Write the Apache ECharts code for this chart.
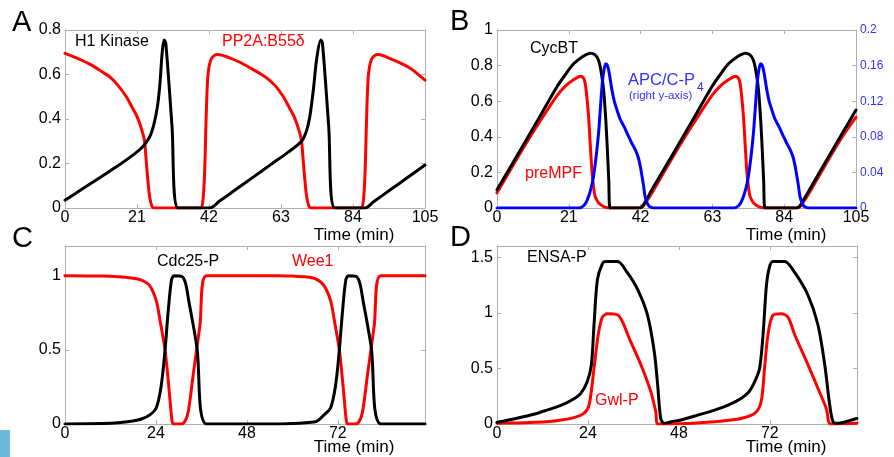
<!DOCTYPE html>
<html><head><meta charset="utf-8">
<script src="https://cdn.jsdelivr.net/npm/echarts@6/dist/echarts.min.js"></script>
<style>html,body{margin:0;padding:0;background:#fff}#c{width:894px;height:457px}</style>
</head><body><div id="c"></div>
<script>
// ---------- data (time in min, value) ----------
const aH1Kinase = [[0,0.035],[5,0.085],[10,0.135],[15,0.185],[20,0.24],[22,0.265],[23.7,0.295],[25,0.33],[26,0.38],[27,0.46],[27.7,0.56],[28.3,0.69],[28.9,0.755],[29.4,0.74],[31.2,0.37],[33,0],[42.2,0],[45,0.03],[50,0.085],[55,0.14],[60,0.195],[65,0.25],[69,0.30],[70.5,0.35],[71.5,0.42],[72.5,0.54],[73.4,0.67],[74.6,0.755],[75.1,0.74],[76.9,0.37],[78.7,0],[87.5,0],[90,0.028],[95,0.083],[100,0.138],[105,0.193]];
const aPP2A = [[0,0.695],[4,0.67],[8,0.64],[11,0.61],[13,0.59],[15.5,0.55],[17.9,0.50],[19.5,0.455],[20.8,0.418],[21.8,0.38],[22.7,0.335],[23.2,0.30],[23.7,0.21],[24.2,0.12],[24.7,0.05],[25.3,0.01],[26,0],[39.5,0],[40.2,0.03],[40.7,0.15],[41.2,0.42],[41.7,0.6],[42.5,0.665],[43.5,0.685],[44.6,0.69],[48,0.675],[51,0.655],[54,0.63],[56.8,0.605],[58.8,0.585],[61.3,0.55],[63.7,0.50],[65.3,0.455],[66.6,0.418],[67.6,0.38],[68.5,0.335],[69,0.30],[69.5,0.21],[70,0.12],[70.5,0.05],[71.1,0.01],[71.8,0],[86.3,0],[87,0.03],[87.5,0.15],[88,0.42],[88.5,0.6],[89.3,0.665],[90.3,0.685],[91.4,0.69],[95,0.67],[98,0.65],[101,0.625],[103,0.60],[105,0.575]];

const bCycBT = [[0,0.103],[5,0.265],[9.7,0.42],[13,0.53],[17.5,0.68],[20,0.75],[22.4,0.81],[25,0.85],[27.3,0.87],[28.7,0.86],[29.7,0.83],[30.5,0.76],[31.2,0.66],[31.8,0.5],[32.3,0.32],[32.7,0.15],[33.1,0],[41.5,0],[42.5,0.01],[43.5,0.04],[45.3,0.103],[50.3,0.265],[55,0.42],[58.3,0.53],[62.8,0.68],[65.3,0.75],[67.7,0.81],[70.3,0.85],[72.6,0.87],[74,0.86],[75,0.83],[75.8,0.76],[76.5,0.66],[77.1,0.5],[77.6,0.32],[78,0.15],[78.4,0],[87.5,0],[88.5,0.01],[89.5,0.04],[91.3,0.1],[96.3,0.265],[101,0.42],[105,0.55]];
const bPreMPF = [[0,0.085],[5,0.25],[9.7,0.40],[13,0.50],[17.5,0.63],[20,0.685],[22.4,0.72],[24.4,0.74],[25.3,0.73],[25.8,0.70],[26.3,0.62],[26.8,0.51],[27.3,0.35],[27.8,0.2],[28.3,0.11],[28.7,0.065],[29.5,0.035],[30.2,0.02],[31.5,0.005],[33,0],[41.5,0],[42.5,0.005],[43.5,0.03],[45.3,0.085],[50.3,0.25],[55,0.40],[58.3,0.50],[62.8,0.63],[65.3,0.685],[67.7,0.72],[69.7,0.74],[70.6,0.73],[71.1,0.70],[71.6,0.62],[72.1,0.51],[72.6,0.35],[73.1,0.2],[73.6,0.11],[74,0.065],[74.8,0.035],[75.5,0.02],[76.8,0.005],[78.3,0],[87.5,0],[88.5,0.005],[89.5,0.03],[91.3,0.085],[96.3,0.25],[101,0.40],[105,0.51]];
const bAPCP4 = [[0,0],[24,0],[25.5,0.003],[26.5,0.01],[27.5,0.022],[28.2,0.035],[29,0.058],[29.7,0.084],[30.2,0.11],[30.7,0.136],[31.2,0.153],[31.8,0.162],[32.3,0.16],[32.8,0.152],[33.6,0.133],[34.3,0.12],[35.1,0.11],[36,0.1],[37.1,0.092],[38.3,0.082],[39.4,0.073],[40.5,0.065],[41.3,0.057],[41.9,0.047],[42.4,0.036],[42.9,0.024],[43.3,0.013],[44,0.005],[44.8,0.001],[46,0],[69.3,0],[70.8,0.003],[71.8,0.01],[72.8,0.022],[73.5,0.035],[74.3,0.058],[75,0.084],[75.5,0.11],[76,0.136],[76.5,0.153],[77.1,0.162],[77.6,0.16],[78.1,0.152],[78.9,0.133],[79.6,0.12],[80.4,0.11],[81.3,0.1],[82.4,0.092],[83.6,0.082],[84.7,0.073],[85.8,0.065],[86.6,0.057],[87.2,0.047],[87.7,0.036],[88.2,0.024],[88.6,0.013],[89.3,0.005],[90.1,0.001],[91.3,0],[105,0]];

const cCdc25P = [[0,0],[10,0.003],[14,0.008],[17.5,0.018],[20,0.032],[22.3,0.06],[24.1,0.11],[25.4,0.26],[26.4,0.5],[27.2,0.75],[28.1,0.97],[28.8,1.0],[30.8,0.995],[31.8,0.95],[32.6,0.84],[34.8,0.52],[37.4,0],[56,0],[60,0.003],[63.5,0.009],[66.5,0.02],[68.3,0.06],[70.1,0.11],[71.4,0.26],[72.4,0.5],[73.2,0.75],[74.1,0.97],[74.8,1.0],[76.8,0.995],[77.8,0.95],[78.6,0.84],[80.8,0.52],[83.4,0],[95,0]];
const cWee1 = [[0,1.0],[10,0.997],[14,0.992],[17.5,0.984],[20,0.972],[22.3,0.935],[24.1,0.83],[25.2,0.68],[26.4,0.5],[27.4,0.25],[28.2,0.03],[28.6,0],[30.7,0],[31.6,0.016],[32.5,0.079],[33.8,0.326],[35.6,0.663],[37.3,1.0],[56,1.0],[60,0.997],[63.5,0.992],[66,0.98],[68.3,0.935],[70.1,0.83],[71.2,0.68],[72.4,0.5],[73.4,0.25],[74.2,0.03],[74.6,0],[76.7,0],[77.6,0.016],[78.5,0.079],[79.8,0.326],[81.6,0.663],[83.3,1.0],[95,1.0]];

const dENSAP = [[0,0.015],[5,0.05],[10,0.09],[13.2,0.125],[17,0.17],[20,0.22],[22.1,0.275],[23.8,0.38],[24.9,0.53],[25.6,0.89],[26.5,1.30],[27.8,1.44],[28.7,1.46],[31.8,1.46],[34.4,1.36],[37.1,1.21],[39.7,0.98],[41.5,0.65],[42.4,0.35],[43.2,0.05],[44.1,0.006],[46,0.02],[48.5,0.036],[53,0.08],[57.4,0.125],[61,0.17],[64.4,0.23],[66.5,0.29],[68,0.38],[69.3,0.50],[70.2,0.80],[71.1,1.245],[71.9,1.41],[72.8,1.46],[75.9,1.46],[78.6,1.36],[82.1,1.155],[84.7,0.89],[86.5,0.53],[87.8,0.17],[88.7,0.02],[90,0.006],[92,0.02],[95,0.05]];
const dGwlP = [[0,0.006],[5,0.01],[10,0.015],[13.2,0.02],[17,0.035],[20.3,0.057],[22.9,0.095],[24.3,0.17],[25.6,0.50],[26.7,0.80],[27.8,0.96],[29.1,0.99],[31.8,0.98],[33.1,0.92],[34.9,0.77],[38,0.53],[40.6,0.29],[41.9,0.11],[42.5,0],[50,0.005],[57.4,0.02],[61,0.033],[64.4,0.05],[68,0.095],[69.7,0.20],[70.6,0.50],[71.5,0.80],[72.8,0.976],[75,0.99],[76.8,0.96],[78.6,0.80],[82.1,0.53],[84.7,0.32],[86.9,0.14],[88.1,0],[95,0.006]];

// axis ranges / ticks
const xTicksAB = {max:105, interval:21};
const xTicksCD = {max:95, interval:24};
const yTicksA = {max:0.8, interval:0.2};
const yTicksB = {max:1, interval:0.2};
const yTicksBRight = {max:0.2, interval:0.04};
const yTicksC = {max:1.2, interval:0.5};
const yTicksD = {max:1.6, interval:0.5};

// ---------- chart ----------
const FONT = '"Liberation Sans", Arial, Helvetica, sans-serif';
const GRAY = '#b0b0b0';
const BLUE_TXT = '#3030ff';
const grids = [
  {left:65, top:30, width:360, height:178},
  {left:497, top:30, width:359, height:178},
  {left:65, top:246, width:360, height:178},
  {left:497, top:246, width:360, height:178}
];
function xAx(g, pos, t, showLab, showMax) {
  return {type:'value', gridIndex:g, position:pos, min:0, max:t.max, interval:t.interval,
    axisLine:{show:true, onZero:false, lineStyle:{color:GRAY, width:1}},
    axisTick:{show:true, inside:true, length:4, lineStyle:{color:GRAY}},
    splitLine:{show:false},
    axisLabel:{show:showLab, color:'#000', fontSize:16, fontFamily:FONT, margin:2, showMaxLabel:showMax, showMinLabel:true}};
}
function yAx(g, pos, t, showLab, showMax, color, fs, margin) {
  return {type:'value', gridIndex:g, position:pos, min:0, max:t.max, interval:t.interval,
    axisLine:{show:true, onZero:false, lineStyle:{color:GRAY, width:1}},
    axisTick:{show:true, inside:true, length:4, lineStyle:{color:GRAY}},
    splitLine:{show:false},
    axisLabel:{show:showLab, color:color||'#000', fontSize:fs||16, fontFamily:FONT, margin:margin||4, showMaxLabel:showMax, showMinLabel:true}};
}
const xAxis = [
  xAx(0,'bottom',xTicksAB,true,true), xAx(0,'top',xTicksAB,false,false),
  xAx(1,'bottom',xTicksAB,true,true), xAx(1,'top',xTicksAB,false,false),
  xAx(2,'bottom',xTicksCD,true,false), xAx(2,'top',xTicksCD,false,false),
  xAx(3,'bottom',xTicksCD,true,false), xAx(3,'top',xTicksCD,false,false)
];
const yAxis = [
  yAx(0,'left',yTicksA,true,true), yAx(0,'right',yTicksA,false,false),
  yAx(1,'left',yTicksB,true,true), yAx(1,'right',yTicksBRight,true,true,BLUE_TXT,12,4),
  yAx(2,'left',yTicksC,true,false), yAx(2,'right',yTicksC,false,false),
  yAx(3,'left',yTicksD,true,false), yAx(3,'right',yTicksD,false,false)
];
function ln(data, xi, yi, color) {
  return {type:'line', data, xAxisIndex:xi, yAxisIndex:yi, showSymbol:false, symbol:'none',
    smooth:0.3, lineStyle:{color, width:3, join:'round', cap:'round'}, itemStyle:{color}, animation:false};
}
const series = [
  ln(aPP2A,0,0,'#ff0000'), ln(aH1Kinase,0,0,'#000000'),
  ln(bPreMPF,2,2,'#ff0000'), ln(bCycBT,2,2,'#000000'), ln(bAPCP4,2,3,'#0000ff'),
  ln(cWee1,4,4,'#ff0000'), ln(cCdc25P,4,4,'#000000'),
  ln(dGwlP,6,6,'#ff0000'), ln(dENSAP,6,6,'#000000')
];
function txt(s, x, y, color, size, align) {
  return {type:'text', x, y, silent:true, z:100, style:{text:s, fill:color, fontSize:size, fontFamily:FONT,
    textAlign:align||'left', textVerticalAlign:'middle'}};
}
const graphic = [
  {type:'rect', shape:{x:0, y:430, width:10, height:27}, style:{fill:'#6cbad9'}},
  txt('A',12,23,'#000',29), txt('B',450,22,'#000',29), txt('C',12,239,'#000',29), txt('D',450,238,'#000',29),
  txt('H1 Kinase',75,42,'#000',16), txt('PP2A:B55\u03b4',222,42,'#ff0000',16),
  txt('CycBT',530,49,'#000',16), txt('preMPF',525,174,'#ff0000',16),
  txt('APC/C-P',628,80,BLUE_TXT,16.5), txt('4',697,88,BLUE_TXT,12), txt('(right y-axis)',629,96,BLUE_TXT,11.5),
  txt('Cdc25-P',157,262,'#000',16), txt('Wee1',292,262,'#ff0000',16),
  txt('ENSA-P',527,258,'#000',16), txt('Gwl-P',595,401,'#ff0000',16),
  txt('Time (min)',354,235,'#000',17,'center'), txt('Time (min)',786,235,'#000',17,'center'),
  txt('Time (min)',354,447,'#000',17,'center'), txt('Time (min)',786,447,'#000',17,'center')
];
const chart = echarts.init(document.getElementById('c'), null, {renderer:'canvas'});
chart.setOption({backgroundColor:'#fff', animation:false, grid:grids, xAxis, yAxis, series, graphic});
</script></body></html>
